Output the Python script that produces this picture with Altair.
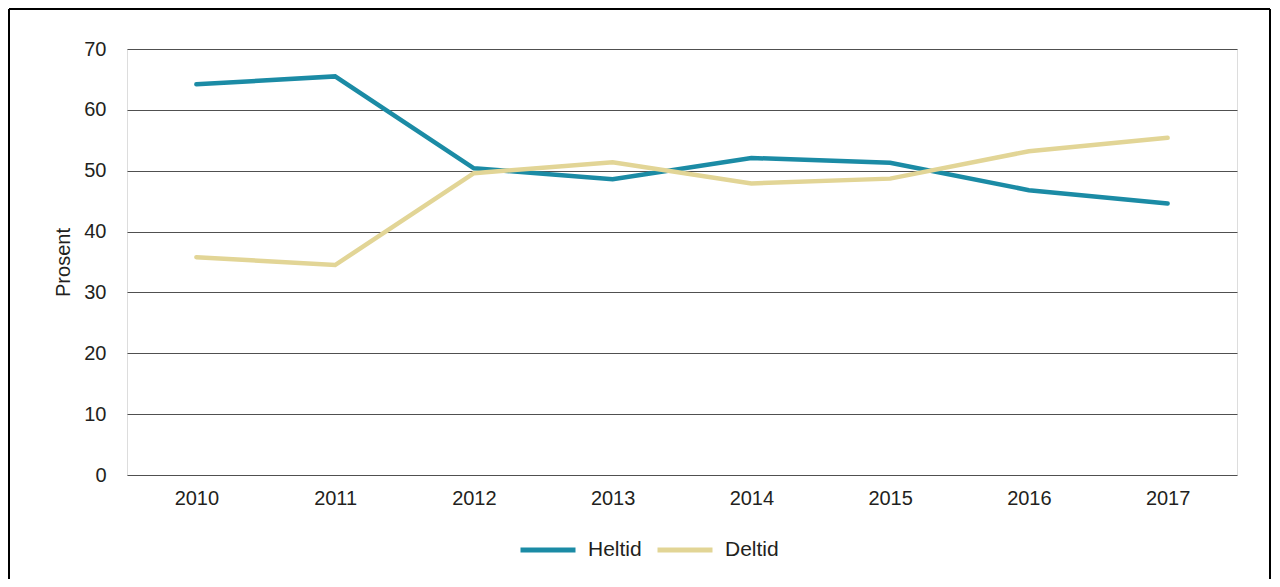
import altair as alt
import pandas as pd

years = ["2010", "2011", "2012", "2013", "2014", "2015", "2016", "2017"]
heltid = [64.2, 65.5, 50.4, 48.6, 52.1, 51.3, 46.8, 44.6]
deltid = [35.8, 34.5, 49.6, 51.4, 47.9, 48.7, 53.2, 55.4]
series = ["Heltid", "Deltid"]
colors = ["#1b8ba5", "#e2d596"]
y_ticks = [0, 10, 20, 30, 40, 50, 60, 70]

rows = []
for name, vals in zip(series, [heltid, deltid]):
    for yr, v in zip(years, vals):
        rows.append({"year": yr, "value": v, "series": name})
df = pd.DataFrame(rows)

FONT = "Liberation Sans"
TXT = "#231f20"

lines = alt.Chart(df).mark_line(strokeWidth=4.5, strokeCap="round").encode(
    x=alt.X("year:O", sort=years,
            scale=alt.Scale(type="point", padding=0.5),
            axis=alt.Axis(title=None, labelAngle=0, ticks=False, domain=False,
                          labelPadding=13, labelFontSize=20, labelFont=FONT,
                          labelColor=TXT, grid=False)),
    y=alt.Y("value:Q", scale=alt.Scale(domain=[0, 70], nice=False),
            axis=alt.Axis(title="Prosent", values=y_ticks, ticks=False, domain=False,
                          grid=True, gridColor="#505050", gridWidth=1,
                          labelPadding=21, labelFontSize=20, labelFont=FONT,
                          labelColor=TXT, titleFontSize=20, titleFont=FONT,
                          titleFontWeight="normal", titleColor=TXT, titlePadding=10)),
    color=alt.Color("series:N", sort=series,
                    scale=alt.Scale(domain=series, range=colors),
                    legend=alt.Legend(title=None, orient="none", direction="horizontal",
                                      legendX=391, legendY=471, symbolType="stroke",
                                      symbolSize=3025, symbolStrokeWidth=5,
                                      labelFontSize=21, labelFont=FONT, labelColor=TXT,
                                      labelOffset=10, columnPadding=5, padding=0)),
)

frame_df = pd.DataFrame({"k": [0]})
left = alt.Chart(frame_df).mark_rule(color="#000000", strokeWidth=2).encode(
    x=alt.value(-118), y=alt.value(-40), y2=alt.value(700))
top = alt.Chart(frame_df).mark_rule(color="#000000", strokeWidth=2).encode(
    x=alt.value(-118), x2=alt.value(1143), y=alt.value(-40))
right = alt.Chart(frame_df).mark_rule(color="#000000", strokeWidth=2).encode(
    x=alt.value(1143), y=alt.value(-40), y2=alt.value(700))

chart = alt.layer(lines, left, top, right).properties(
    width=1110, height=426,
    autosize=alt.AutoSizeParams(type="none"),
    padding={"left": 119, "top": 41, "right": 35, "bottom": 104},
).configure_view(stroke=None).configure(background="white")

chart.save("out.html", embed_options={"renderer": "svg", "actions": False})
